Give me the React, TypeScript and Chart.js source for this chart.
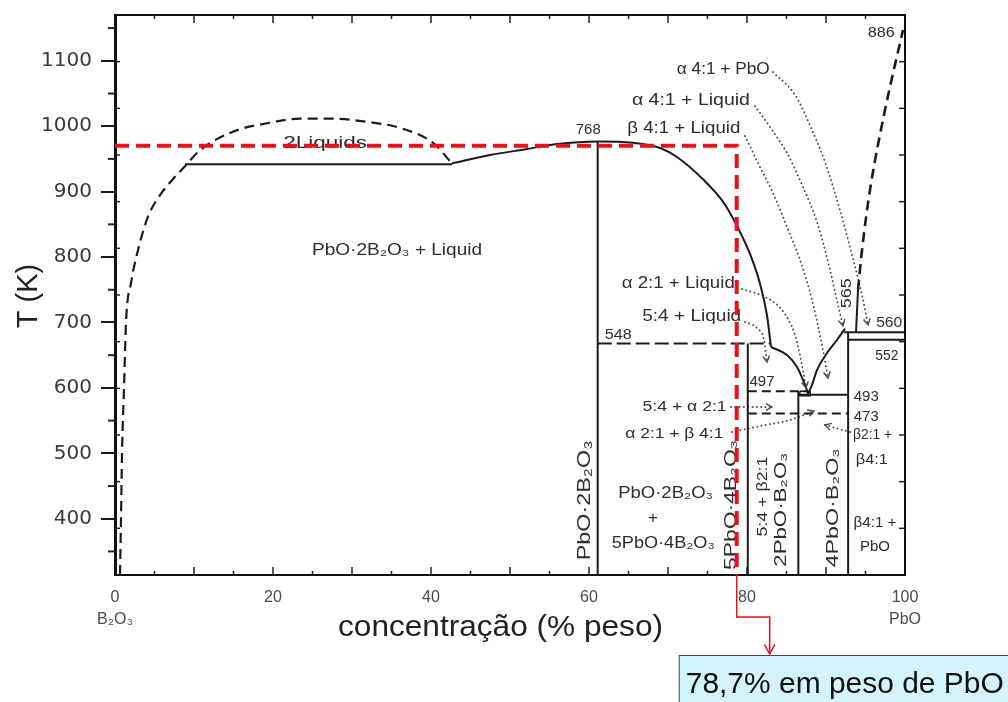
import React, { useEffect, useRef } from "react";
import { Chart, registerables } from "chart.js";

Chart.register(...registerables);

type Pt = [number, number];

const W = 1008;
const H = 702;

// ---------- axes ----------
const compMin = 0;
const compMax = 100;
const kelvinMin = 314;
const kelvinMax = 1170;
const celsiusMin = 300;
const celsiusMax = 900;
const kelvinTicks = [400, 500, 600, 700, 800, 900, 1000, 1100];
const kelvinMinorTicks = [350, 450, 550, 650, 750, 850, 950, 1050, 1150];
const compTicks = [0, 20, 40, 60, 80, 100];
const compInnerTicks = [5, 10, 15, 20, 25, 30, 35, 40, 45, 50, 55, 60, 65, 70, 75, 80, 85, 90, 95];
const celsiusInnerTicks = [350, 400, 450, 500, 550, 600, 650, 700, 750, 800, 850];
const endMembers = ["B₂O₃", "PbO"];
const xTitle = "concentração (% peso)";
const yTitle = "T (K)";

// ---------- red reading (wt% PbO, K) ----------
const readComposition = 78.7;
const readTemperatureK = 970;
const readLine: Pt[] = [[0, readTemperatureK], [readComposition, readTemperatureK], [readComposition, kelvinMin]];
const readLabel = "78,7% em peso de PbO";

// ---------- phase diagram (wt% PbO, °C) ----------
const twoLiquidsDome: Pt[] = [
  [0.63, 300], [0.76, 360], [0.89, 431], [1.14, 500], [1.39, 570], [2.03, 613], [2.91, 648],
  [4.18, 684], [5.7, 707], [7.22, 723], [8.86, 738], [10.76, 755], [14.94, 775], [19.24, 784],
  [23.42, 789], [27.59, 789], [31.9, 785.5], [36.08, 779], [40.25, 763], [42.66, 741],
];
const monotectic: Pt[] = [[8.86, 740], [42.66, 740]];
const liquidusPbO2B2O3: Pt[] = [
  [42.66, 741], [47.47, 750], [52.15, 756.4], [55.95, 761.8], [61.14, 764.5], [65.57, 763],
  [68.99, 757.5], [71.14, 747.9], [74.43, 724], [76.96, 700], [78.61, 676], [80.38, 644],
  [81.65, 612], [82.53, 578], [83.04, 544.3],
];
const liquidus2PbO: Pt[] = [[83.04, 544.3], [85.06, 535.7], [86.33, 522.9], [87.09, 508.9], [87.59, 498.2], [87.72, 494]];
const liquidus4PbO: Pt[] = [[87.72, 494], [88.23, 503.6], [88.86, 519.6], [90.13, 537.9], [91.39, 551.8], [92.41, 564]];
const liquidusPbOSolid: Pt[] = [[93.8, 560], [94.05, 605.4]];
const liquidusPbODashed: Pt[] = [[94.05, 605.4], [94.56, 648.2], [95.57, 712.5], [97.47, 798.2], [99.75, 884]];

const isotherm548: Pt[] = [[61.1, 548], [83.0, 548]];
const isotherm497: Pt[] = [[80.1, 497], [87.6, 497]];
const isotherm493: Pt[] = [[86.5, 493], [92.8, 493]];
const isotherm473: Pt[] = [[80.1, 473], [92.8, 473]];
const isotherm560: Pt[] = [[92.3, 560], [100, 560]];
const isotherm552: Pt[] = [[92.8, 552], [100, 552]];

const compoundPbO2B2O3: Pt[] = [[61.1, 300], [61.1, 764.5]];
const compound5PbO4B2O3: Pt[] = [[80.1, 300], [80.1, 548]];
const compound2PbOB2O3: Pt[] = [[86.5, 300], [86.5, 497]];
const compound4PbOB2O3: Pt[] = [[92.8, 300], [92.8, 560]];
const eutecticBox: Pt[] = [[86.7, 497], [88.0, 497], [88.0, 492], [86.7, 492], [86.7, 497]];

// dotted leader lines (last point = arrow tip)
const leaderA4PbO: Pt[] = [[83.29, 838.9], [86.08, 814.3], [88.23, 776.8], [90.0, 739.3], [91.77, 691.1], [93.29, 642.9], [94.56, 600], [95.32, 568]];
const leaderA4Liquid: Pt[] = [[81.01, 802.5], [82.91, 780], [85.06, 752.1], [87.09, 715.7], [88.86, 678.2], [90.51, 626.8], [91.52, 589.3], [92.15, 567]];
const leaderB4Liquid: Pt[] = [[79.75, 770.4], [81.65, 737.1], [83.29, 709.3], [85.06, 672.9], [86.71, 637.5], [88.23, 594.6], [89.62, 541.1], [90.25, 511.1]];
const leaderA2Liquid: Pt[] = [[79.37, 606.4], [82.28, 597.9], [84.43, 583.9], [86.08, 557.1], [86.96, 525], [87.47, 500.4]];
const leader54Liquid: Pt[] = [[79.75, 571.1], [81.27, 564.6], [82.15, 551.8], [82.53, 528.2]];
const leader54A2: Pt[] = [[77.97, 480], [83.16, 480]];
const leaderA2B4: Pt[] = [[78.1, 453.2], [81.65, 459.6], [85.44, 466.1], [88.48, 475.7]];
const leaderB2B4: Pt[] = [[93.04, 453.2], [89.87, 460.7]];
const leaders = [leaderA4PbO, leaderA4Liquid, leaderB4Liquid, leaderA2Liquid, leader54Liquid, leader54A2, leaderA2B4, leaderB2B4];

// diagram texts: position in (wt% PbO, °C)
const diagramLabels: { text: string; at: Pt; size: number; width?: number; vertical?: boolean }[] = [
  { text: "2Liquids", at: [26.6, 763], size: 17, width: 84 },
  { text: "PbO·2B₂O₃ + Liquid", at: [35.7, 648], size: 17, width: 170 },
  { text: "768", at: [59.9, 777], size: 14, width: 25 },
  { text: "α 4:1 + PbO", at: [77.0, 841], size: 16, width: 93 },
  { text: "α 4:1 + Liquid", at: [72.9, 808], size: 16, width: 118 },
  { text: "β 4:1 + Liquid", at: [72.0, 778], size: 16, width: 113 },
  { text: "886", at: [97.0, 881], size: 14, width: 27 },
  { text: "α 2:1 + Liquid", at: [71.3, 612], size: 16, width: 113 },
  { text: "5:4 + Liquid", at: [73.0, 577], size: 16, width: 99 },
  { text: "548", at: [63.7, 557], size: 14, width: 27 },
  { text: "497", at: [81.9, 507], size: 14, width: 25 },
  { text: "5:4 + α 2:1", at: [72.1, 480], size: 15, width: 84 },
  { text: "α 2:1 + β 4:1", at: [70.8, 451], size: 15, width: 98 },
  { text: "565", at: [92.7, 602], size: 14, width: 30, vertical: true },
  { text: "560", at: [98.0, 570], size: 14, width: 26 },
  { text: "552", at: [97.7, 535], size: 14, width: 23 },
  { text: "493", at: [95.1, 491], size: 14, width: 25 },
  { text: "473", at: [95.1, 469], size: 14, width: 25 },
  { text: "β2:1 +", at: [95.9, 450], size: 14, width: 39 },
  { text: "β4:1", at: [95.8, 423], size: 14, width: 32 },
  { text: "β4:1 +", at: [96.2, 356], size: 14, width: 43 },
  { text: "PbO", at: [96.2, 330], size: 15, width: 30 },
  { text: "PbO·2B₂O₃", at: [59.5, 380], size: 18, width: 120, vertical: true },
  { text: "PbO·2B₂O₃", at: [69.7, 388], size: 17, width: 95 },
  { text: "+", at: [68.1, 361], size: 17 },
  { text: "5PbO·4B₂O₃", at: [69.4, 334], size: 17, width: 103 },
  { text: "5PbO·4B₂O₃", at: [78.0, 375], size: 17, width: 130, vertical: true },
  { text: "5:4 + β2:1", at: [82.0, 384], size: 15, width: 80, vertical: true },
  { text: "2PbO·B₂O₃", at: [84.4, 370], size: 17, width: 114, vertical: true },
  { text: "4PbO·B₂O₃", at: [90.9, 372], size: 17, width: 119, vertical: true },
];

const SANS = '"Liberation Sans", Arial, sans-serif';
const INK = "#1b1b1b";
const TEXT_INK = "#2e2e2e";
const DOT_INK = "#4a4a4a";
const RED = "#e3141c";

const pts = (a: Pt[]) => a.map(([x, y]) => ({ x, y }));

function series(data: Pt[], opts: any = {}) {
  return {
    data: pts(data),
    showLine: true,
    pointRadius: 0,
    pointHoverRadius: 0,
    borderColor: INK,
    borderWidth: 2,
    fill: false,
    tension: 0,
    yAxisID: "yC",
    ...opts,
  };
}

const smooth = { cubicInterpolationMode: "monotone" };
const dashed = { borderDash: [10, 6] };
const dotted = { borderDash: [0.1, 4.2], borderColor: DOT_INK, borderWidth: 1.9, borderCapStyle: "round", ...smooth };

function fittedText(ctx: CanvasRenderingContext2D, text: string, px: number, py: number, size: number, width: number | undefined, rot: number, color: string, family: string, align: CanvasTextAlign = "center") {
  ctx.save();
  ctx.translate(px, py);
  if (rot) ctx.rotate(rot);
  ctx.font = `${size}px ${family}`;
  ctx.textAlign = align;
  ctx.textBaseline = "middle";
  if (width) {
    const w = ctx.measureText(text).width;
    if (w > 0) ctx.scale(width / w, 1);
  }
  ctx.fillStyle = color;
  ctx.fillText(text, 0, 0);
  ctx.restore();
}

function arrowHead(ctx: CanvasRenderingContext2D, x0: number, y0: number, x1: number, y1: number, size: number) {
  const ang = Math.atan2(y1 - y0, x1 - x0);
  ctx.beginPath();
  ctx.moveTo(x1 - size * Math.cos(ang - 0.5), y1 - size * Math.sin(ang - 0.5));
  ctx.lineTo(x1, y1);
  ctx.lineTo(x1 - size * Math.cos(ang + 0.5), y1 - size * Math.sin(ang + 0.5));
  ctx.stroke();
}

function seg(ctx: CanvasRenderingContext2D, x0: number, y0: number, x1: number, y1: number) {
  ctx.beginPath();
  ctx.moveTo(x0, y0);
  ctx.lineTo(x1, y1);
  ctx.stroke();
}

const overlayPlugin = {
  id: "overlay",
  beforeDatasetsDraw(chart: any) {
    const { ctx, scales } = chart;
    for (const l of diagramLabels) {
      const px = scales.x.getPixelForValue(l.at[0]);
      const py = scales.yC.getPixelForValue(l.at[1]);
      fittedText(ctx, l.text, px, py, l.size, l.width, l.vertical ? -Math.PI / 2 : 0, TEXT_INK, SANS);
    }
  },
  afterDatasetsDraw(chart: any) {
    const { ctx, scales } = chart;
    ctx.save();
    ctx.strokeStyle = DOT_INK;
    ctx.lineWidth = 1.4;
    for (const l of leaders) {
      const n = l.length;
      const a = l[n - 2];
      const b = l[n - 1];
      arrowHead(
        ctx,
        scales.x.getPixelForValue(a[0]), scales.yC.getPixelForValue(a[1]),
        scales.x.getPixelForValue(b[0]), scales.yC.getPixelForValue(b[1]),
        7
      );
    }
    ctx.restore();
  },
  afterDraw(chart: any) {
    const { ctx, chartArea: a, scales } = chart;
    const x = scales.x;
    const yK = scales.y;
    const yC = scales.yC;
    ctx.save();
    ctx.strokeStyle = "#111";
    ctx.lineWidth = 2;
    ctx.beginPath();
    ctx.moveTo(a.left, a.top);
    ctx.lineTo(a.right, a.top);
    ctx.lineTo(a.right, a.bottom);
    ctx.stroke();

    ctx.lineWidth = 1.5;
    ctx.strokeStyle = "#222";
    for (const v of compInnerTicks) {
      const px = x.getPixelForValue(v);
      const len = v % 10 === 0 ? 8 : 4;
      seg(ctx, px, a.top, px, a.top + len);
      seg(ctx, px, a.bottom, px, a.bottom - len);
    }
    for (const v of celsiusInnerTicks) {
      const py = yC.getPixelForValue(v);
      seg(ctx, a.left, py, a.left + 5, py);
      seg(ctx, a.right, py, a.right - 6, py);
    }
    ctx.lineWidth = 2;
    for (const v of kelvinMinorTicks) {
      const py = yK.getPixelForValue(v);
      seg(ctx, a.left - 7, py, a.left, py);
    }

    // axis titles
    fittedText(ctx, yTitle, a.left - 86, (a.top + a.bottom) / 2 + 1, 29, undefined, -Math.PI / 2, "#222", SANS);
    fittedText(ctx, xTitle, x.getPixelForValue(48.8), a.bottom + 53, 30, 325, 0, "#222", SANS);

    // red connector & reading box
    const rx = x.getPixelForValue(readComposition);
    ctx.strokeStyle = RED;
    ctx.lineWidth = 1.5;
    ctx.beginPath();
    ctx.moveTo(rx, a.bottom);
    ctx.lineTo(rx, a.bottom + 42);
    ctx.lineTo(rx + 33, a.bottom + 42);
    ctx.lineTo(rx + 33, a.bottom + 79);
    ctx.stroke();
    arrowHead(ctx, rx + 33, a.bottom + 60, rx + 33, a.bottom + 79, 11);

    const bx = rx - 58;
    const by = a.bottom + 80;
    ctx.fillStyle = "#d3f4fb";
    ctx.fillRect(bx, by, W - bx + 5, H - by + 5);
    ctx.strokeStyle = "#4a4a4a";
    ctx.lineWidth = 1;
    ctx.strokeRect(bx + 0.5, by + 0.5, W - bx + 5, H - by + 5);
    ctx.save();
    ctx.font = `30px ${SANS}`;
    const w = ctx.measureText(readLabel).width;
    ctx.translate(bx + 7, by + 38);
    ctx.scale(318 / w, 1);
    ctx.fillStyle = "#111";
    ctx.textAlign = "left";
    ctx.textBaseline = "alphabetic";
    ctx.fillText(readLabel, 0, 0);
    ctx.restore();
    ctx.restore();
  },
};

export default function App() {
  const ref = useRef<HTMLCanvasElement>(null);
  useEffect(() => {
    const datasets: any[] = [
      series(readLine, { yAxisID: "y", borderColor: RED, borderWidth: 4, borderDash: [14, 7], order: -1 }),
      series(twoLiquidsDome, { ...smooth, ...dashed, borderWidth: 2.2 }),
      series(monotectic),
      series(liquidusPbO2B2O3, smooth),
      series(liquidus2PbO, smooth),
      series(liquidus4PbO, smooth),
      series(liquidusPbOSolid),
      series(liquidusPbODashed, { ...smooth, ...dashed, borderWidth: 2.6 }),
      series(isotherm548, { borderDash: [14, 5] }),
      series(isotherm497, { borderDash: [9, 5] }),
      series(isotherm493),
      series(isotherm473, { borderDash: [9, 5] }),
      series(isotherm560),
      series(isotherm552),
      series(compoundPbO2B2O3),
      series(compound5PbO4B2O3),
      series(compound2PbOB2O3),
      series(compound4PbOB2O3),
      series(eutecticBox, { borderWidth: 1.5 }),
      ...leaders.map((l) => series(l, dotted)),
    ];

    const chart = new Chart(ref.current as HTMLCanvasElement, {
      type: "scatter",
      data: { datasets },
      options: {
        animation: false,
        responsive: false,
        devicePixelRatio: 1,
        events: [],
        layout: { padding: { left: 0, top: 15, right: 103, bottom: 0 } },
        plugins: { legend: { display: false }, tooltip: { enabled: false }, title: { display: false } },
        scales: {
          x: {
            type: "linear",
            position: "bottom",
            min: compMin,
            max: compMax,
            afterBuildTicks: (s: any) => {
              s.ticks = compTicks.map((v) => ({ value: v }));
            },
            afterFit: (s: any) => {
              s.height = 127;
              s.paddingLeft = 0;
              s.paddingRight = 0;
            },
            grid: { display: false },
            border: { display: true, color: "#111", width: 2 },
            ticks: {
              autoSkip: false,
              maxRotation: 0,
              minRotation: 0,
              padding: 4,
              color: "#4a4a4a",
              font: { family: SANS, size: 16, lineHeight: 1.375 },
              callback: (v: any) => {
                if (v === compMin) return [String(v), endMembers[0]];
                if (v === compMax) return [String(v), endMembers[1]];
                return String(v);
              },
            },
          },
          y: {
            type: "linear",
            position: "left",
            min: kelvinMin,
            max: kelvinMax,
            afterBuildTicks: (s: any) => {
              s.ticks = kelvinTicks.map((v) => ({ value: v }));
            },
            afterFit: (s: any) => {
              s.width = 115;
              s.paddingTop = 0;
              s.paddingBottom = 0;
            },
            grid: { display: true, drawOnChartArea: false, drawTicks: true, tickLength: 14, color: "#1a1a1a", lineWidth: 2 },
            border: { display: true, color: "#111", width: 3 },
            ticks: {
              color: "#3a3a3a",
              padding: 9,
              font: { family: '"DejaVu Sans", sans-serif', size: 20 },
              callback: (v: any) => String(v),
            },
          },
          yC: {
            type: "linear",
            position: "right",
            min: celsiusMin,
            max: celsiusMax,
            display: false,
          },
        },
      } as any,
      plugins: [overlayPlugin],
    });
    return () => chart.destroy();
  }, []);

  return (
    <div style={{ position: "fixed", left: 0, top: 0, width: W, height: H, background: "#fff", overflow: "hidden" }}>
      <canvas ref={ref} width={W} height={H} style={{ width: W, height: H, display: "block" }} />
    </div>
  );
}
